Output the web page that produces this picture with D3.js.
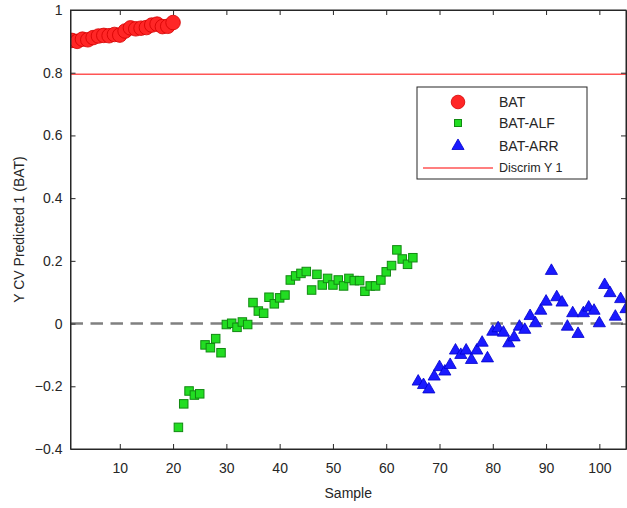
<!DOCTYPE html>
<html>
<head>
<meta charset="utf-8">
<script src="https://cdn.jsdelivr.net/npm/d3@7"></script>
<style>
  body { margin: 0; background: #fff; }
  svg { font-family: "Liberation Sans", Arial, sans-serif; }
</style>
</head>
<body>
<div id="chart"></div>
<script>
const WIDTH = 627, HEIGHT = 508;
const margin = {top: 10, right: 1, bottom: 59, left: 70.5};

// data
const batValues = [0.903, 0.900, 0.907, 0.905, 0.912, 0.917, 0.919, 0.918, 0.922, 0.920,
                   0.933, 0.943, 0.940, 0.942, 0.944, 0.952, 0.955, 0.947, 0.948, 0.960];
const batStart = 1;
const alfValues = [-0.331, -0.256, -0.215, -0.228, -0.224, -0.068, -0.077, -0.048, -0.093, -0.003,
                   0.001, -0.012, 0.005, -0.003, 0.067, 0.040, 0.033, 0.084, 0.063, 0.082,
                   0.091, 0.139, 0.152, 0.160, 0.166, 0.107, 0.157, 0.123, 0.144, 0.123,
                   0.139, 0.120, 0.144, 0.137, 0.137, 0.103, 0.120, 0.120, 0.139, 0.165,
                   0.185, 0.235, 0.206, 0.189, 0.210];
const alfStart = 21;
const arrValues = [-0.185, -0.196, -0.210, -0.169, -0.139, -0.153, -0.132, -0.086, -0.100, -0.086,
                   -0.116, -0.086, -0.061, -0.111, -0.026, -0.015, -0.029, -0.063, -0.044, -0.010,
                   -0.020, 0.024, 0.001, 0.041, 0.070, 0.168, 0.084, 0.067, -0.010, 0.033,
                   -0.033, 0.033, 0.051, 0.041, 0.001, 0.123, 0.097, 0.022, 0.078, 0.046];
const arrStart = 66;
const discrimY = 0.795;
const xTicks = [10, 20, 30, 40, 50, 60, 70, 80, 90, 100];
const yTicks = [-0.4, -0.2, 0, 0.2, 0.4, 0.6, 0.8, 1];
const legendLabels = ["BAT", "BAT-ALF", "BAT-ARR", "Discrim Y 1"];

const toPoints = (vals, start) => vals.map((v, i) => ({x: start + i, y: v}));
const bat = toPoints(batValues, batStart);
const alf = toPoints(alfValues, alfStart);
const arr = toPoints(arrValues, arrStart);

const w = WIDTH - margin.left - margin.right;
const h = HEIGHT - margin.top - margin.bottom;

const svg = d3.select("#chart").append("svg")
    .attr("width", WIDTH)
    .attr("height", HEIGHT);

const x = d3.scaleLinear().domain([0.75, 105]).range([margin.left, margin.left + w]);
const y = d3.scaleLinear().domain([-0.4, 1]).range([margin.top + h, margin.top]);

svg.append("defs").append("clipPath").attr("id", "plotclip")
  .append("rect")
    .attr("x", margin.left).attr("y", margin.top)
    .attr("width", w).attr("height", h);

const plot = svg.append("g").attr("clip-path", "url(#plotclip)");

// zero line
plot.append("line")
    .attr("x1", x(0.75)).attr("x2", x(105))
    .attr("y1", y(0)).attr("y2", y(0))
    .attr("stroke", "#808080")
    .attr("stroke-width", 2.6)
    .attr("stroke-dasharray", "12.5,7.5");

// discriminant line
plot.append("line")
    .attr("x1", x(0.75)).attr("x2", x(105))
    .attr("y1", y(discrimY)).attr("y2", y(discrimY))
    .attr("stroke", "#ff5555")
    .attr("stroke-width", 1.5);

// BAT circles
plot.selectAll("circle.bat")
  .data(bat)
  .enter().append("circle")
    .attr("class", "bat")
    .attr("cx", d => x(d.x))
    .attr("cy", d => y(d.y))
    .attr("r", 7.3)
    .attr("fill", "#ff2626")
    .attr("stroke", "#d40000")
    .attr("stroke-width", 0.8);

// BAT-ALF squares
const sq = 8.5;
plot.selectAll("rect.alf")
  .data(alf)
  .enter().append("rect")
    .attr("class", "alf")
    .attr("x", d => x(d.x) - sq / 2)
    .attr("y", d => y(d.y) - sq / 2)
    .attr("width", sq)
    .attr("height", sq)
    .attr("fill", "#22dd22")
    .attr("stroke", "#118a11")
    .attr("stroke-width", 1);

// BAT-ARR triangles
const tri = d3.symbol().type(d3.symbolTriangle).size(64);
plot.selectAll("path.arr")
  .data(arr)
  .enter().append("path")
    .attr("class", "arr")
    .attr("d", tri)
    .attr("transform", d => `translate(${x(d.x)},${y(d.y)})`)
    .attr("fill", "#1a1aff")
    .attr("stroke", "#0000cc")
    .attr("stroke-width", 0.8);

// axes, ticks inward on all four sides
const tickLen = 5;
svg.append("g")
    .attr("transform", `translate(0,${margin.top + h})`)
    .call(d3.axisBottom(x).tickValues(xTicks).tickSizeInner(-tickLen).tickSizeOuter(0).tickPadding(14).tickFormat(d3.format("d")));
svg.append("g")
    .attr("transform", `translate(0,${margin.top})`)
    .call(d3.axisTop(x).tickValues(xTicks).tickSizeInner(-tickLen).tickSizeOuter(0).tickFormat(""));
svg.append("g")
    .attr("transform", `translate(${margin.left},0)`)
    .call(d3.axisLeft(y).tickValues(yTicks).tickSizeInner(-tickLen).tickSizeOuter(0).tickPadding(8).tickFormat(d => d3.format("")(+d.toFixed(1))));
svg.append("g")
    .attr("transform", `translate(${margin.left + w},0)`)
    .call(d3.axisRight(y).tickValues(yTicks).tickSizeInner(-tickLen).tickSizeOuter(0).tickFormat(""));

svg.selectAll(".tick text")
    .style("font-size", "14px")
    .attr("fill", "#262626");
svg.selectAll(".domain, .tick line").attr("stroke", "#262626");

// box
svg.append("rect")
    .attr("x", margin.left).attr("y", margin.top)
    .attr("width", w).attr("height", h)
    .attr("fill", "none")
    .attr("stroke", "#262626")
    .attr("stroke-width", 1);

// axis labels
svg.append("text")
    .attr("x", margin.left + w / 2)
    .attr("y", 498)
    .attr("text-anchor", "middle")
    .style("font-size", "14px")
    .attr("fill", "#262626")
    .text("Sample");

svg.append("text")
    .attr("transform", `translate(24,${margin.top + h / 2}) rotate(-90)`)
    .attr("text-anchor", "middle")
    .style("font-size", "14px")
    .attr("fill", "#262626")
    .text("Y CV Predicted 1 (BAT)");

// legend
const legend = svg.append("g").attr("transform", "translate(417,87)");
legend.append("rect")
    .attr("width", 170).attr("height", 92)
    .attr("fill", "#fff")
    .attr("stroke", "#262626")
    .attr("stroke-width", 1);
const rowY = [15, 36, 59, 81];
legend.append("circle")
    .attr("cx", 41).attr("cy", rowY[0]).attr("r", 6.8)
    .attr("fill", "#ff2626").attr("stroke", "#d40000").attr("stroke-width", 0.8);
legend.append("rect")
    .attr("x", 41 - 3.5).attr("y", rowY[1] - 3.5).attr("width", 7).attr("height", 7)
    .attr("fill", "#22dd22").attr("stroke", "#118a11").attr("stroke-width", 1);
legend.append("path")
    .attr("d", tri)
    .attr("transform", `translate(41,${rowY[2]})`)
    .attr("fill", "#1a1aff").attr("stroke", "#0000cc").attr("stroke-width", 0.8);
legend.append("line")
    .attr("x1", 6).attr("x2", 76)
    .attr("y1", rowY[3]).attr("y2", rowY[3])
    .attr("stroke", "#ff5555").attr("stroke-width", 1.5);
legend.selectAll("text.lab")
  .data(legendLabels)
  .enter().append("text")
    .attr("class", "lab")
    .attr("x", 82)
    .attr("y", (d, i) => rowY[i])
    .attr("dy", "0.35em")
    .style("font-size", (d, i) => i === 3 ? "12.5px" : "14px")
    .attr("fill", "#262626")
    .text(d => d);
</script>
</body>
</html>
